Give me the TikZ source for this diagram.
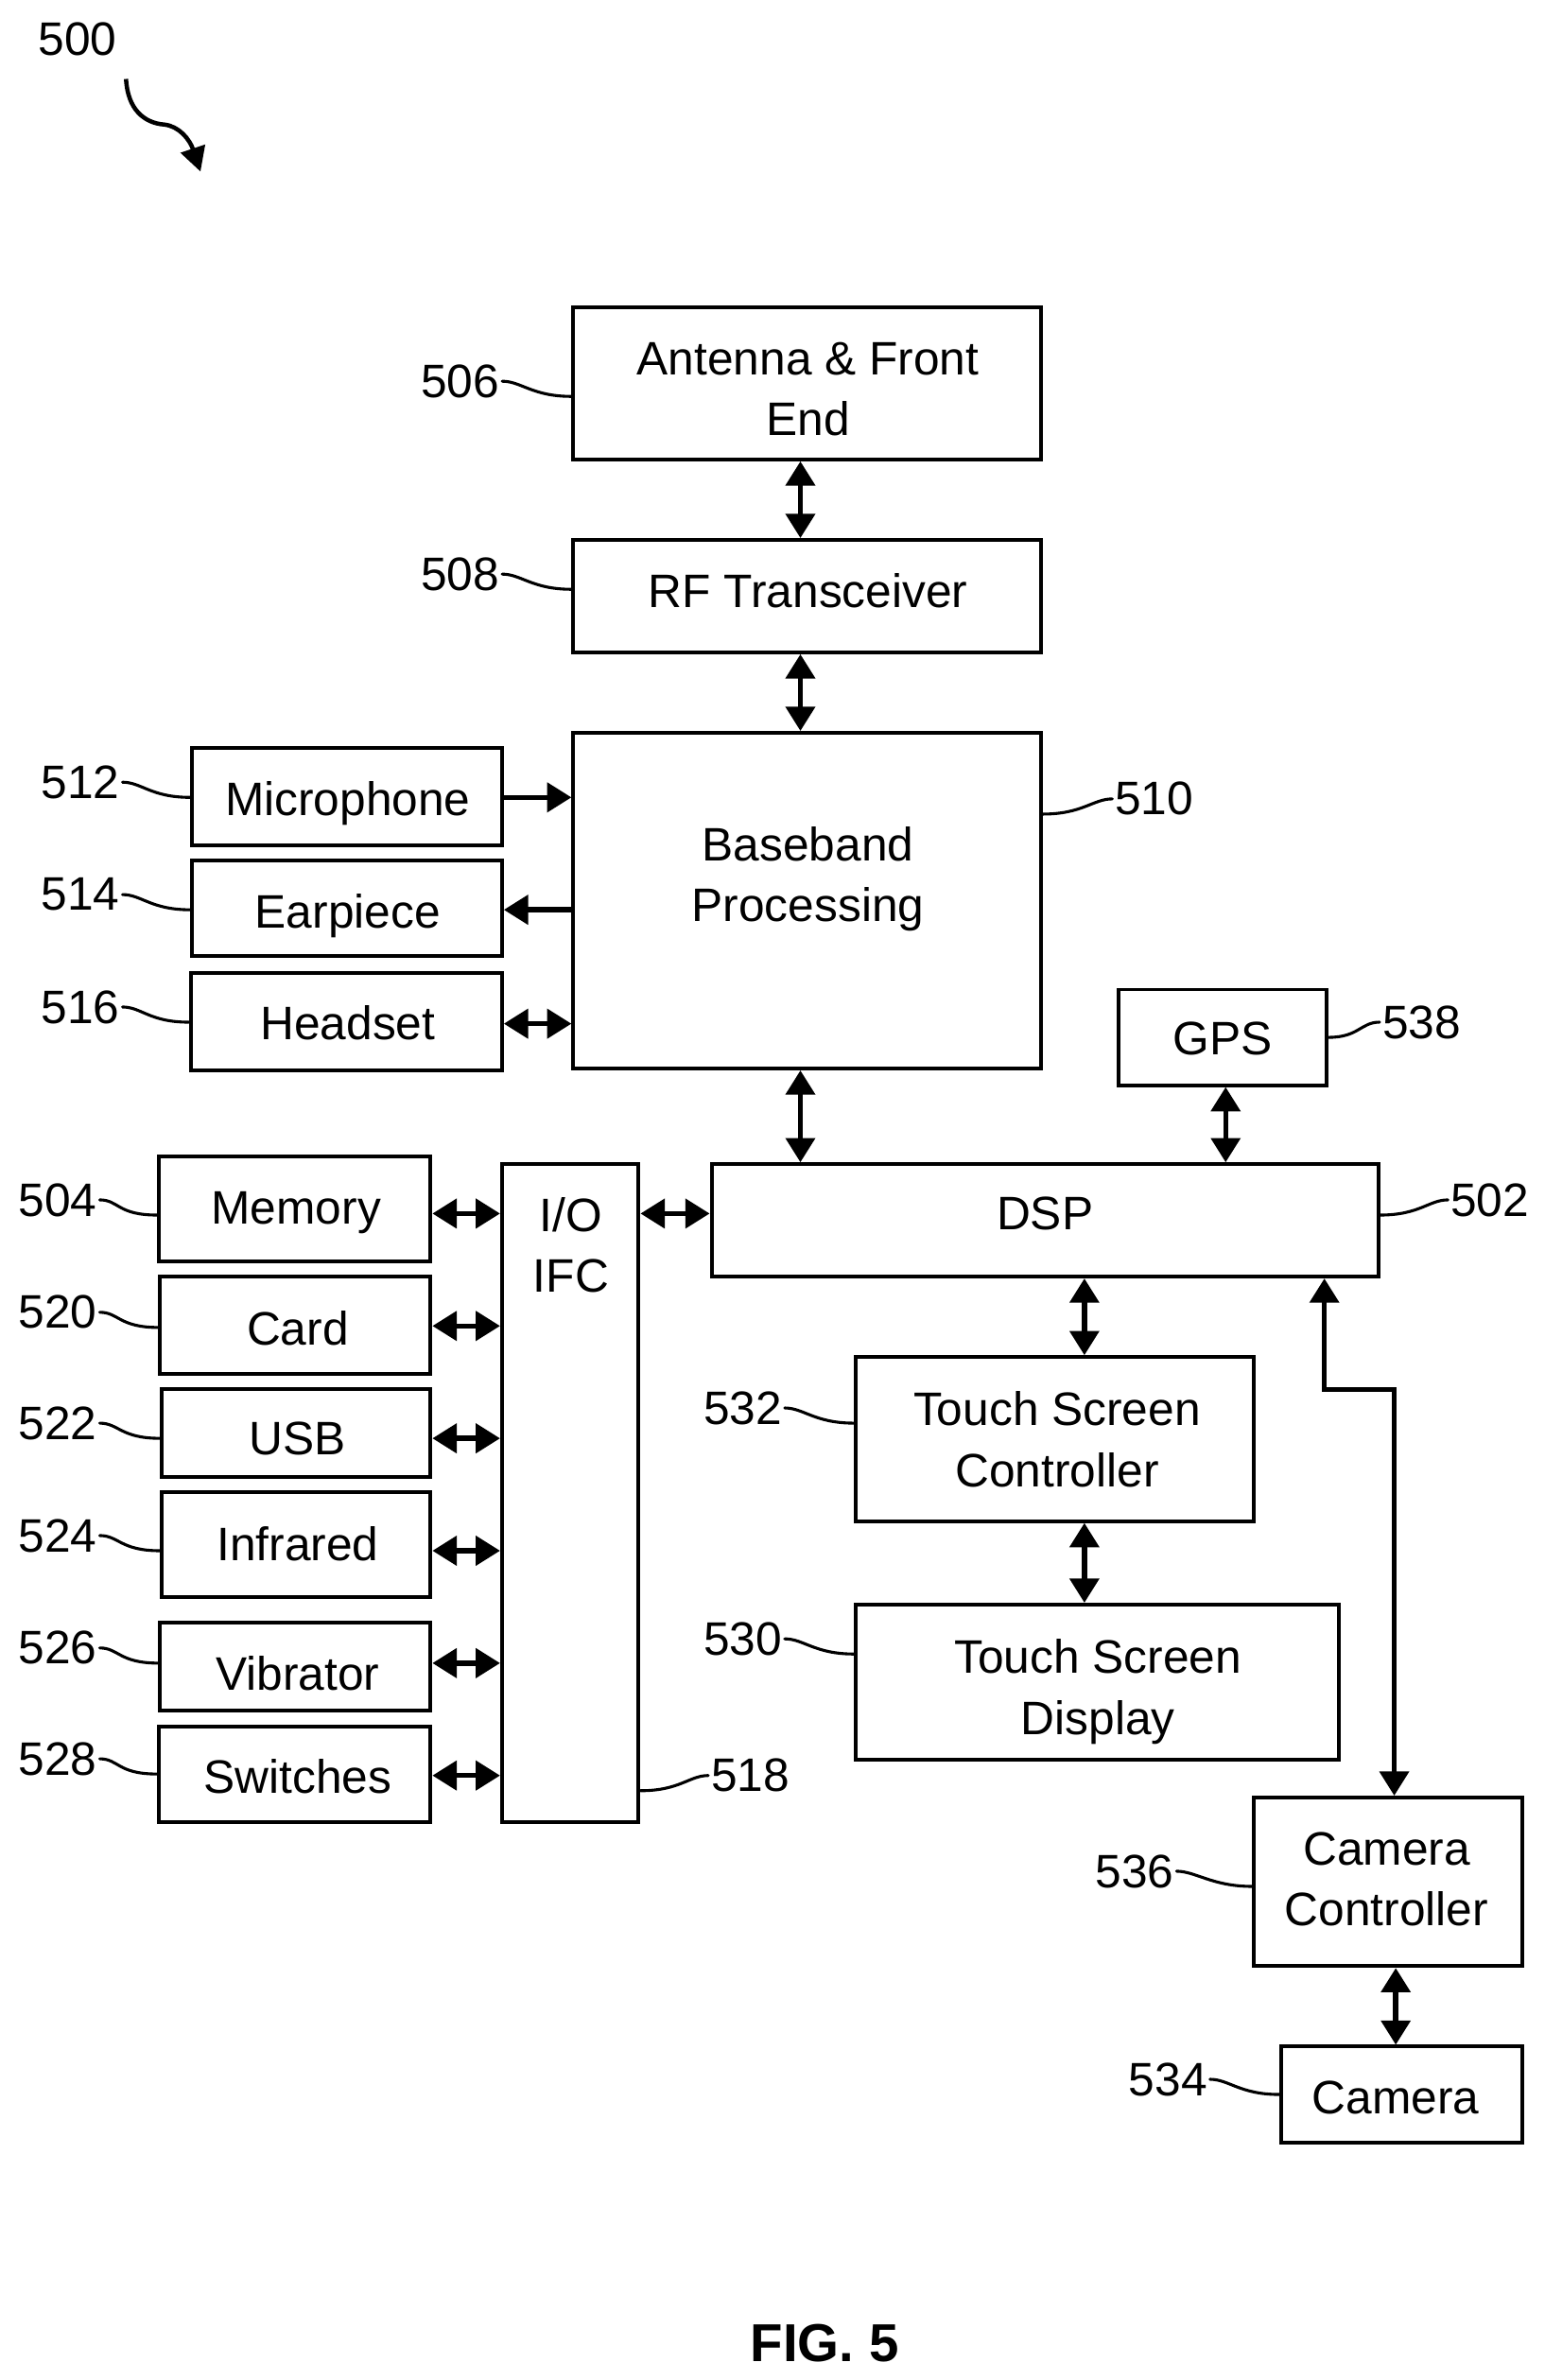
\documentclass[tikz,border=0pt]{standalone}
\usepackage{fontspec}
\setmainfont{Liberation Sans}
\usetikzlibrary{arrows.meta,fit}
\tikzset{
  boxs/.style={draw=black,line width=1.4pt,inner sep=0pt,xshift=-0.01cm,yshift=0.01cm},
  txt/.style={inner sep=0pt,align=center,yshift=-0.055cm,font=\fontsize{17.6}{22.8}\selectfont},
  reflabel/.style={inner sep=0pt,font=\fontsize{17.6}{22.8}\selectfont},
  dbl/.style={line width=1.9pt,{Triangle[length=3.2mm,width=3.8mm]}-{Triangle[length=3.2mm,width=3.8mm]}},
  sgl/.style={line width=1.9pt,-{Triangle[length=3.2mm,width=3.8mm]}},
  lead/.style={line width=1.1pt,line cap=round,shorten <=0.03cm},
  caption/.style={inner sep=0pt,font=\fontsize{20}{24}\selectfont\bfseries}
}
\newcommand{\bx}[8]{%
  \node[boxs,fit={(#2,#3)(#4,#5)}] (#1) {};
  \node[txt] (#1t) at (#6,#7) {#8};
}
\newcommand{\reflab}[3]{\node[reflabel] (n#1) at (#2,#3) {#1};}
\begin{document}
\begin{tikzpicture}[x=0.02cm,y=-0.02cm]
\useasboundingbox (0,0) rectangle (1017,1567);
\bx{ant}{378}{203}{686}{303}{532}{256}{\strut Antenna \& Front\\\strut End}
\bx{rf}{378}{356}{686}{430}{532}{389}{\strut RF Transceiver}
\bx{bb}{378}{483}{686}{704}{532}{576}{\strut Baseband\\\strut Processing}
\bx{mic}{127}{493}{331}{557}{229}{526}{\strut Microphone}
\bx{ear}{127}{567}{331}{630}{229}{600}{\strut Earpiece}
\bx{head}{126}{641}{331}{705}{229}{674}{\strut Headset}
\bx{mem}{105}{762}{284}{831}{195}{795}{\strut Memory}
\bx{card}{106}{841}{284}{905}{196}{875}{\strut Card}
\bx{usb}{107}{915}{284}{973}{196}{947}{\strut USB}
\bx{ir}{107}{983}{284}{1052}{196}{1017}{\strut Infrared}
\bx{vib}{106}{1069}{284}{1127}{196}{1102}{\strut Vibrator}
\bx{sw}{105}{1137}{284}{1200}{196}{1170}{\strut Switches}
\bx{io}{331}{767}{421}{1200}{376}{820}{\strut I/O\\\strut IFC}
\bx{dsp}{469}{767}{908}{841}{688}{799}{\strut DSP}
\bx{gps}{737}{652}{874}{715}{805}{684}{\strut GPS}
\bx{tsc}{564}{894}{826}{1002}{696}{948}{\strut Touch Screen\\\strut Controller}
\bx{tsd}{564}{1057}{882}{1159}{723}{1111}{\strut Touch Screen\\\strut Display}
\bx{camc}{826}{1184}{1003}{1295}{913}{1237}{\strut Camera\\\strut Controller}
\bx{cam}{844}{1348}{1003}{1411}{919}{1381}{\strut Camera}
\reflab{500}{51}{26}
\reflab{506}{303}{251}
\reflab{508}{303}{378}
\reflab{510}{760}{526}
\reflab{512}{53}{515}
\reflab{514}{53}{589}
\reflab{516}{53}{663}
\reflab{504}{38}{790}
\reflab{520}{38}{864}
\reflab{522}{38}{937}
\reflab{524}{38}{1011}
\reflab{526}{38}{1085}
\reflab{528}{38}{1158}
\reflab{518}{494}{1169}
\reflab{532}{489}{927}
\reflab{530}{489}{1079}
\reflab{538}{936}{673}
\reflab{502}{981}{790}
\reflab{536}{747}{1232}
\reflab{534}{769}{1369}
\node[caption] (fig) at (543,1543) {FIG. 5};
% double arrows between boxes
\draw[dbl] (527,0 |- ant.south) -- (527,0 |- rf.north);
\draw[dbl] (527,0 |- rf.south) -- (527,0 |- bb.north);
\draw[sgl] (mic.east |- 0,525) -- (bb.west |- 0,525);
\draw[sgl] (bb.west |- 0,599) -- (ear.east |- 0,599);
\draw[dbl] (head.east |- 0,674) -- (bb.west |- 0,674);
\draw[dbl] (527,0 |- bb.south) -- (527,0 |- dsp.north);
\draw[dbl] (807,0 |- gps.south) -- (807,0 |- dsp.north);
\draw[dbl] (714,0 |- dsp.south) -- (714,0 |- tsc.north);
\draw[dbl] (714,0 |- tsc.south) -- (714,0 |- tsd.north);
\draw[dbl] (872,0 |- dsp.south) -- (872,915) -- (918,915) -- (918,0 |- camc.north);
\draw[dbl] (919,0 |- camc.south) -- (919,0 |- cam.north);
\draw[dbl] (mem.east |- 0,799) -- (io.west |- 0,799);
\draw[dbl] (io.east |- 0,799) -- (dsp.west |- 0,799);
\draw[dbl] (card.east |- 0,873) -- (io.west |- 0,873);
\draw[dbl] (usb.east |- 0,947) -- (io.west |- 0,947);
\draw[dbl] (ir.east |- 0,1021) -- (io.west |- 0,1021);
\draw[dbl] (vib.east |- 0,1095) -- (io.west |- 0,1095);
\draw[dbl] (sw.east |- 0,1169) -- (io.west |- 0,1169);
% leader lines
\draw[lead] (n506.east) .. controls +(14,0) and +(-26,0) .. (ant.west |- 0,261);
\draw[lead] (n508.east) .. controls +(14,0) and +(-26,0) .. (rf.west |- 0,388);
\draw[lead] (n512.east) .. controls +(14,0) and +(-26,0) .. (mic.west |- 0,525);
\draw[lead] (n514.east) .. controls +(14,0) and +(-26,0) .. (ear.west |- 0,599);
\draw[lead] (n516.east) .. controls +(14,0) and +(-26,0) .. (head.west |- 0,673);
\draw[lead] (n504.east) .. controls +(14,0) and +(-26,0) .. (mem.west |- 0,800);
\draw[lead] (n520.east) .. controls +(14,0) and +(-26,0) .. (card.west |- 0,874);
\draw[lead] (n522.east) .. controls +(14,0) and +(-26,0) .. (usb.west |- 0,947);
\draw[lead] (n524.east) .. controls +(14,0) and +(-26,0) .. (ir.west |- 0,1021);
\draw[lead] (n526.east) .. controls +(14,0) and +(-26,0) .. (vib.west |- 0,1095);
\draw[lead] (n528.east) .. controls +(14,0) and +(-26,0) .. (sw.west |- 0,1168);
\draw[lead] (n532.east) .. controls +(14,0) and +(-26,0) .. (tsc.west |- 0,937);
\draw[lead] (n530.east) .. controls +(14,0) and +(-26,0) .. (tsd.west |- 0,1089);
\draw[lead] (n536.east) .. controls +(14,0) and +(-26,0) .. (camc.west |- 0,1242);
\draw[lead] (n534.east) .. controls +(14,0) and +(-26,0) .. (cam.west |- 0,1379);
\draw[lead] (n510.west) .. controls +(-14,0) and +(26,0) .. (bb.east |- 0,536);
\draw[lead] (n538.west) .. controls +(-14,0) and +(20,0) .. (gps.east |- 0,683);
\draw[lead] (n502.west) .. controls +(-14,0) and +(26,0) .. (dsp.east |- 0,800);
\draw[lead] (n518.west) .. controls +(-14,0) and +(26,0) .. (io.east |- 0,1179);
% figure arrow
\coordinate (arrowstart) at (83,52);
\draw[line width=1.6pt,-{Triangle[length=3.2mm,width=3.3mm]}] (arrowstart) .. controls (84,72) and (95,81) .. (108,82) .. controls (118,83) and (125,92) .. (132,113);
\end{tikzpicture}
\end{document}
